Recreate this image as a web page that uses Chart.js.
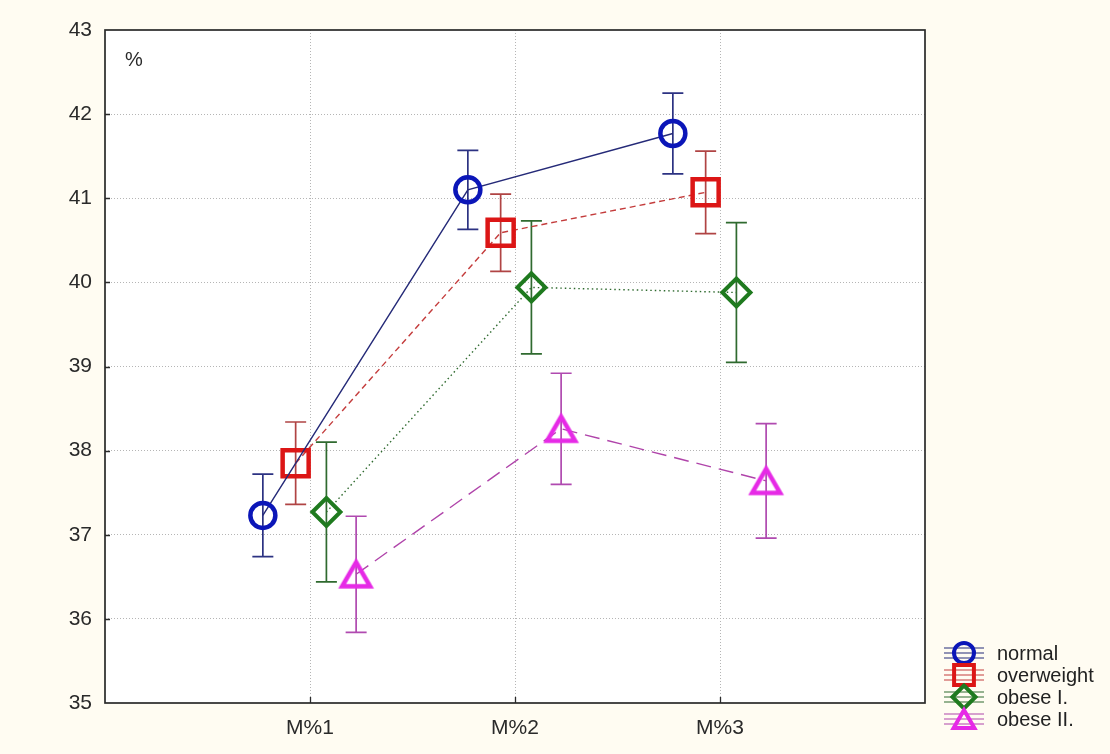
<!DOCTYPE html>
<html>
<head>
<meta charset="utf-8">
<script src="https://cdn.jsdelivr.net/npm/chart.js@4.4.1/dist/chart.umd.min.js"></script>
<style>
  html, body { margin: 0; padding: 0; background: #fffcf2; }
  canvas { display: block; }
</style>
</head>
<body>
<canvas id="c" width="1110" height="754"></canvas>
<script>
// Categories on the x axis
const categories = ['M%1', 'M%2', 'M%3'];
// Group names
const groupNames = ['normal', 'overweight', 'obese I.', 'obese II.'];
// Means per group
const normalMean     = [37.23, 41.10, 41.77];
const overweightMean = [37.85, 40.59, 41.07];
const obese1Mean     = [37.27, 39.94, 39.88];
const obese2Mean     = [36.53, 38.26, 37.64];
// Error half-widths per group
const normalErr     = [0.49, 0.47, 0.48];
const overweightErr = [0.49, 0.46, 0.49];
const obese1Err     = [0.83, 0.79, 0.83];
const obese2Err     = [0.69, 0.66, 0.68];
// Y axis range / ticks
const yMin = 35, yMax = 43, yStep = 1;
const yUnitLabel = '%';

// Horizontal dodge of each group around its category
const groupOffsets = [-0.23, -0.07, 0.08, 0.225];

const FONT = "'Liberation Sans', Arial, sans-serif";

// Triangle marker centred on its bounding box
function triangleImage(color, size, lw) {
  const c = document.createElement('canvas');
  const w = Math.ceil(size + lw * 2 + 6);
  c.width = w; c.height = w;
  const x = c.getContext('2d');
  const h = size * Math.sqrt(3) / 2;
  x.strokeStyle = color;
  x.lineWidth = lw;
  x.lineJoin = 'miter';
  x.beginPath();
  x.moveTo(w / 2, w / 2 - h / 2);
  x.lineTo(w / 2 + size / 2, w / 2 + h / 2);
  x.lineTo(w / 2 - size / 2, w / 2 + h / 2);
  x.closePath();
  x.stroke();
  return c;
}

const styles = [
  { marker: '#0b16b8', line: '#252a78', err: '#2c3282', dash: [], style: 'circle', radius: 12.5, bw: 4.5 },
  { marker: '#dc1616', line: '#c43c3c', err: '#b04444', dash: [6, 4], style: 'rect', radius: 18.4, bw: 4.5 },
  { marker: '#1f7a1f', line: '#2f6a2f', err: '#2f6a2f', dash: [1.5, 3], style: 'rectRot', radius: 14, bw: 4 },
  { marker: '#e62ae6', line: '#b044aa', err: '#b04ab0', dash: [15, 8], style: triangleImage('#e62ae6', 28, 4.5), radius: 17, bw: 4.5 }
];

const means = [normalMean, overweightMean, obese1Mean, obese2Mean];
const errs = [normalErr, overweightErr, obese1Err, obese2Err];

const datasets = groupNames.map((name, g) => ({
  label: name,
  data: means[g].map((v, i) => ({ x: i + 1 + groupOffsets[g], y: v })),
  errors: errs[g],
  errColor: styles[g].err,
  borderColor: styles[g].line,
  borderWidth: 1.4,
  borderDash: styles[g].dash,
  pointStyle: styles[g].style,
  pointRadius: styles[g].radius,
  pointBorderColor: styles[g].marker,
  pointBackgroundColor: 'rgba(0,0,0,0)',
  pointBorderWidth: styles[g].bw,
  pointHoverRadius: styles[g].radius,
  tension: 0,
  fill: false
}));

// Page background, white plot area
const backgroundPlugin = {
  id: 'bg',
  beforeDraw(chart) {
    const { ctx, chartArea: a } = chart;
    ctx.save();
    ctx.fillStyle = '#fffcf2';
    ctx.fillRect(0, 0, chart.width, chart.height);
    ctx.fillStyle = '#ffffff';
    ctx.fillRect(a.left, a.top, a.right - a.left, a.bottom - a.top);
    ctx.restore();
  }
};

// Vertical error bars with caps, drawn below the markers
const errorBarPlugin = {
  id: 'errorBars',
  beforeDatasetsDraw(chart) {
    const { ctx, scales: { x, y } } = chart;
    ctx.save();
    chart.data.datasets.forEach(ds => {
      ctx.strokeStyle = ds.errColor;
      ctx.lineWidth = 1.7;
      ctx.setLineDash([]);
      ds.data.forEach((p, i) => {
        const px = x.getPixelForValue(p.x);
        const top = y.getPixelForValue(p.y + ds.errors[i]);
        const bot = y.getPixelForValue(p.y - ds.errors[i]);
        const cap = 10.5;
        ctx.beginPath();
        ctx.moveTo(px, top); ctx.lineTo(px, bot);
        ctx.moveTo(px - cap, top); ctx.lineTo(px + cap, top);
        ctx.moveTo(px - cap, bot); ctx.lineTo(px + cap, bot);
        ctx.stroke();
      });
    });
    ctx.restore();
  }
};

function drawMarker(ctx, style, cx, cy, r) {
  ctx.beginPath();
  if (style === 'circle') {
    ctx.arc(cx, cy, r, 0, Math.PI * 2);
  } else if (style === 'rect') {
    const s = r * Math.SQRT1_2;
    ctx.rect(cx - s, cy - s, 2 * s, 2 * s);
  } else if (style === 'rectRot') {
    ctx.moveTo(cx - r, cy); ctx.lineTo(cx, cy - r);
    ctx.lineTo(cx + r, cy); ctx.lineTo(cx, cy + r); ctx.closePath();
  } else {
    const s = r * 1.8, h = s * Math.sqrt(3) / 2;
    ctx.moveTo(cx, cy - h / 2); ctx.lineTo(cx + s / 2, cy + h / 2);
    ctx.lineTo(cx - s / 2, cy + h / 2); ctx.closePath();
  }
  ctx.stroke();
}

// Frame, inward tick marks, unit label and legend
const framePlugin = {
  id: 'frame',
  afterDraw(chart) {
    const { ctx, chartArea: a, scales: { x, y } } = chart;
    ctx.save();
    ctx.setLineDash([]);
    ctx.strokeStyle = '#2a2a2a';
    ctx.lineWidth = 1.7;
    ctx.strokeRect(a.left, a.top, a.right - a.left, a.bottom - a.top);

    ctx.lineWidth = 1.3;
    ctx.beginPath();
    for (let v = yMin + yStep; v < yMax; v += yStep) {
      const py = Math.round(y.getPixelForValue(v)) + 0.5;
      ctx.moveTo(a.left, py); ctx.lineTo(a.left + 5, py);
    }
    categories.forEach((c, i) => {
      const px = Math.round(x.getPixelForValue(i + 1)) + 0.5;
      ctx.moveTo(px, a.bottom); ctx.lineTo(px, a.bottom - 6);
    });
    ctx.stroke();

    ctx.fillStyle = '#2a2a2a';
    ctx.font = '20px ' + FONT;
    ctx.textBaseline = 'middle';
    ctx.textAlign = 'left';
    ctx.fillText(yUnitLabel, a.left + 20, a.top + 30);

    // Legend
    const lx = 964, ly0 = 653, dy = 22;
    chart.data.datasets.forEach((ds, g) => {
      const cy = ly0 + g * dy;
      ctx.setLineDash([]);
      ctx.strokeStyle = ds.borderColor;
      ctx.lineWidth = 1.2;
      ctx.beginPath();
      ctx.moveTo(lx - 20, cy); ctx.lineTo(lx + 20, cy);
      ctx.moveTo(lx - 20, cy - 5); ctx.lineTo(lx + 20, cy - 5);
      ctx.moveTo(lx - 20, cy + 5); ctx.lineTo(lx + 20, cy + 5);
      ctx.stroke();
      ctx.strokeStyle = ds.pointBorderColor;
      ctx.lineWidth = 4;
      const st = typeof ds.pointStyle === 'string' ? ds.pointStyle : 'triangle';
      drawMarker(ctx, st, lx, cy, st === 'rect' ? 14 : (st === 'circle' ? 10 : 11.5));
      ctx.fillStyle = '#222';
      ctx.font = '20px ' + FONT;
      ctx.fillText(ds.label, 997, cy + 1);
    });
    ctx.restore();
  }
};

new Chart(document.getElementById('c'), {
  type: 'line',
  data: { datasets },
  options: {
    responsive: false,
    animation: false,
    events: [],
    layout: { padding: { left: 0, top: 30, right: 185, bottom: 0 } },
    plugins: { legend: { display: false }, tooltip: { enabled: false } },
    scales: {
      x: {
        type: 'linear',
        min: 0,
        max: categories.length + 1,
        afterFit(s) { s.height = 51; },
        ticks: {
          stepSize: 1,
          autoSkip: false,
          maxRotation: 0,
          padding: 13,
          color: '#2a2a2a',
          font: { family: FONT, size: 21 },
          callback: v => (v >= 1 && v <= categories.length) ? categories[v - 1] : ''
        },
        grid: {
          drawTicks: false,
          lineWidth: 1,
          color: c => (c.tick && c.tick.value >= 1 && c.tick.value <= categories.length) ? '#b5b5b5' : 'rgba(0,0,0,0)'
        },
        border: { display: false, dash: [1, 2] }
      },
      y: {
        type: 'linear',
        min: yMin,
        max: yMax,
        afterFit(s) { s.width = 105; },
        ticks: {
          stepSize: yStep,
          padding: 13,
          color: '#2a2a2a',
          font: { family: FONT, size: 21 }
        },
        grid: {
          drawTicks: false,
          lineWidth: 1,
          color: c => (c.tick && c.tick.value > yMin && c.tick.value < yMax) ? '#b5b5b5' : 'rgba(0,0,0,0)'
        },
        border: { display: false, dash: [1, 2] }
      }
    }
  },
  plugins: [backgroundPlugin, errorBarPlugin, framePlugin]
});
</script>
</body>
</html>
